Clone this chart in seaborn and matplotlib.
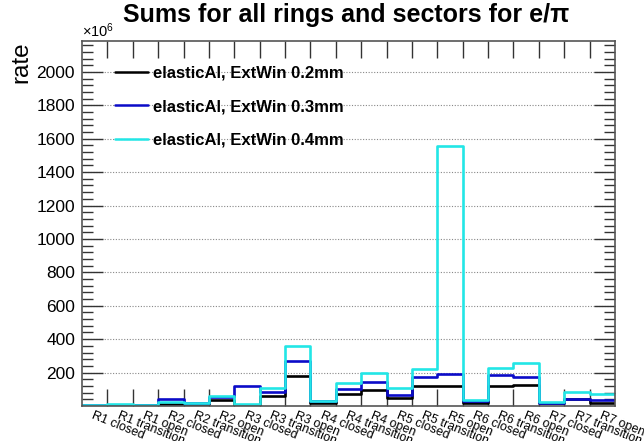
import numpy as np
import pandas as pd
import matplotlib
matplotlib.use("Agg")
import matplotlib.pyplot as plt
from matplotlib.lines import Line2D
import seaborn as sns

# Bin labels (ring / sector type)
categories = [
    "R1 closed", "R1 transition", "R1 open",
    "R2 closed", "R2 transition", "R2 open",
    "R3 closed", "R3 transition", "R3 open",
    "R4 closed", "R4 transition", "R4 open",
    "R5 closed", "R5 transition", "R5 open",
    "R6 closed", "R6 transition", "R6 open",
    "R7 closed", "R7 transition", "R7 open",
]

# Summed rates in units of 1e6
rate_02mm = [2, 3, 3, 10, 10, 36, 5, 60, 178, 20, 72, 96, 46, 122, 122, 16, 122, 128, 16, 40, 20]
rate_03mm = [3, 5, 5, 40, 16, 54, 118, 84, 269, 28, 104, 146, 64, 176, 192, 30, 184, 176, 20, 44, 36]
rate_04mm = [6, 10, 8, 26, 20, 58, 10, 106, 359, 30, 136, 196, 106, 220, 1557, 34, 230, 256, 24, 86, 72]

series_names = ["elasticAl, ExtWin 0.2mm", "elasticAl, ExtWin 0.3mm", "elasticAl, ExtWin 0.4mm"]
series_values = [rate_02mm, rate_03mm, rate_04mm]
series_colors = ["#000000", "#0b0bc8", "#22e6e6"]

sns.set_theme(style="white")
plt.rcParams["font.family"] = ["Liberation Sans", "DejaVu Sans"]
plt.rcParams["mathtext.fontset"] = "custom"
plt.rcParams["mathtext.rm"] = "Liberation Sans"
plt.rcParams["mathtext.it"] = "Liberation Sans:italic"
plt.rcParams["text.color"] = "black"
plt.rcParams["xtick.labelcolor"] = "black"
plt.rcParams["ytick.labelcolor"] = "black"

n = len(categories)
frames = []
for name, vals in zip(series_names, series_values):
    frames.append(pd.DataFrame({"bin": np.arange(n) + 0.5, "rate": vals, "series": name}))
df = pd.concat(frames, ignore_index=True)

fig = plt.figure(figsize=(6.44, 4.41), dpi=100)
ax = fig.add_axes([0.1273, 0.0794, 0.8277, 0.8276])

edges = np.arange(n + 1)
for name, color in zip(series_names, series_colors):
    sns.histplot(data=df[df["series"] == name], x="bin", weights="rate",
                 binwidth=1, binrange=(0, n),
                 element="step", fill=False, color=color, linewidth=1.9, ax=ax)

ax.set_xlim(0, n)
ax.set_ylim(0, 2185)

# horizontal dotted grid
ax.set_yticks(np.arange(200, 2001, 200))
ax.set_yticks(np.arange(40, 2185, 40), minor=True)
ax.yaxis.grid(True, which="major", linestyle=(0, (1, 1.5)), color="#888888", linewidth=0.8)
ax.set_axisbelow(True)

# x: ticks at bin edges, labels at bin centres
ax.set_xticks(edges[1:-1])
ax.set_xticklabels([])
ax.set_xticks(np.arange(n) + 0.5, minor=True)
ax.set_xticklabels(categories, minor=True, rotation=-22, ha="left", va="top",
                   rotation_mode="anchor", fontsize=9)
ax.tick_params(axis="x", which="major", direction="in", length=12, width=1,
               top=True, bottom=True, color="#333333")
ax.tick_params(axis="x", which="minor", length=0, pad=2.5)
ax.tick_params(axis="y", which="major", direction="in", length=15, width=1,
               left=True, right=True, labelsize=12.5, pad=5, color="#333333")
ax.tick_params(axis="y", which="minor", direction="in", length=8, width=1,
               left=True, right=True, color="#333333")

for s in ax.spines.values():
    s.set_color("#555555")
    s.set_linewidth(1.2)

ax.set_xlabel("")
ax.set_ylabel("")
ax.text(-0.114, 1.0, "rate", rotation=90, ha="center", va="top",
        transform=ax.transAxes, fontsize=17.5)
ax.text(0.0, 1.003, r"$\times10^{6}$", ha="left", va="bottom",
        transform=ax.transAxes, fontsize=10.5)
fig.text(0.537, 0.993, "Sums for all rings and sectors for e/π", ha="center", va="top",
         fontsize=18, fontweight="bold")

handles = [Line2D([], [], color=c, linewidth=1.8) for c in series_colors]
leg = ax.legend(handles, series_names, loc="upper left", bbox_to_anchor=(0.062, 0.932),
                frameon=False, borderpad=0, borderaxespad=0, handlelength=2.0,
                handletextpad=0.3, labelspacing=1.1,
                prop={"weight": "bold", "size": 12})

fig.savefig("out.png", dpi=100)
